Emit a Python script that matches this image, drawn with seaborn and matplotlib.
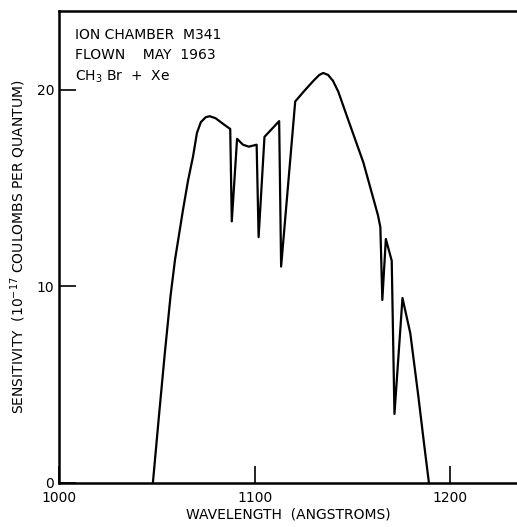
import pandas as pd
import seaborn as sns
import matplotlib.pyplot as plt

# sensitivity curve of the ion chamber
wavelength = [1048, 1051, 1054, 1057, 1059.3, 1063.4, 1066, 1068.5, 1070.5, 1072.5, 1075,
              1077, 1080, 1084, 1087.5, 1088.3, 1091, 1094, 1097, 1101, 1102, 1105, 1112.5,
              1113.5, 1120.7, 1125, 1130, 1133, 1135, 1137.5, 1140, 1142.7, 1148, 1155.5, 1163,
              1164.2, 1165.2, 1167, 1170, 1171.4, 1175.5, 1179.5, 1183.6, 1186.5, 1189]
sensitivity = [0, 3.3, 6.5, 9.5, 11.35, 13.9, 15.4, 16.6, 17.8, 18.35, 18.6,
               18.65, 18.55, 18.25, 18.0, 13.3, 17.5, 17.2, 17.1, 17.2, 12.5, 17.6, 18.4,
               11.0, 19.4, 19.9, 20.45, 20.75, 20.85, 20.75, 20.45, 19.9, 18.4, 16.3, 13.6,
               13.0, 9.3, 12.4, 11.3, 3.5, 9.4, 7.6, 4.4, 2.0, 0]

xticks = [1000, 1100, 1200]
yticks = [0, 10, 20]
note_lines = ['ION CHAMBER  M341', 'FLOWN    MAY  1963', r'CH$_3$ Br  +  Xe']

df = pd.DataFrame({'wavelength': wavelength, 'sensitivity': sensitivity})

sns.set_style('ticks')
plt.rcParams['font.family'] = ['DejaVu Sans']
plt.rcParams['mathtext.fontset'] = 'dejavusans'
plt.rcParams['text.color'] = 'black'
plt.rcParams['axes.labelcolor'] = 'black'

fig = plt.figure(figsize=(5.17, 5.27), dpi=100)
ax = fig.add_axes([0.114, 0.084, 0.886, 0.895])

sns.lineplot(data=df, x='wavelength', y='sensitivity', sort=False, estimator=None,
             color='black', linewidth=1.6, ax=ax)

ax.set_xlim(1000, 1234)
ax.set_ylim(0, 24)
ax.set_xticks(xticks)
ax.set_yticks(yticks)
ax.tick_params(direction='in', length=12, width=1.2, labelsize=10, colors='black')
ax.tick_params(axis='x', pad=6)
ax.spines['right'].set_visible(False)
for s in ['left', 'bottom', 'top']:
    ax.spines[s].set_linewidth(1.8)
    ax.spines[s].set_color('black')

ax.set_xlabel('WAVELENGTH  (ANGSTROMS)', fontsize=10, labelpad=2)
ax.set_ylabel(r'SENSITIVITY  (10$^{-17}$ COULOMBS PER QUANTUM)', fontsize=10, labelpad=6)

for i, line in enumerate(note_lines):
    ax.text(0.035, 0.965 - i * 0.043, line, transform=ax.transAxes,
            fontsize=10, va='top', ha='left')

fig.savefig('out.png', dpi=100)
